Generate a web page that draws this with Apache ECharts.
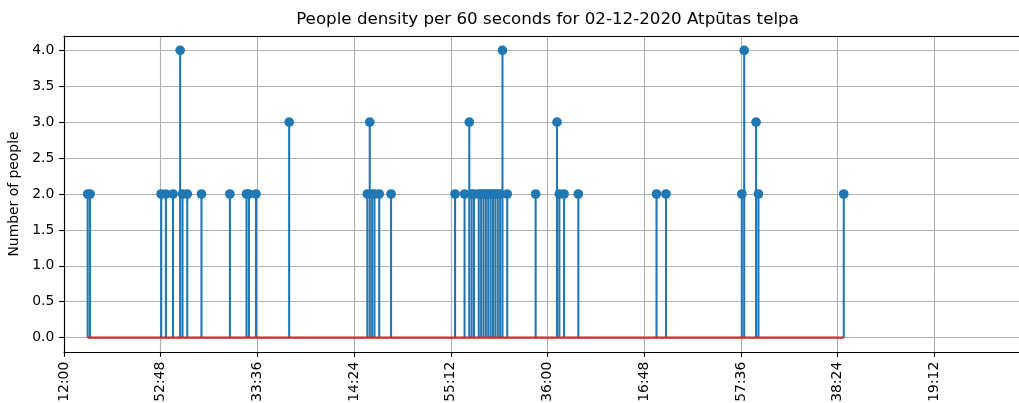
<!DOCTYPE html>
<html><head><meta charset="utf-8">
<script src="https://cdn.jsdelivr.net/npm/echarts@6/dist/echarts.min.js"></script>
<style>html,body{margin:0;padding:0;background:#fff}#c{width:1019px;height:403px}</style>
</head><body><div id="c"></div>
<script>
const titleText = 'People density per 60 seconds for 02-12-2020 Atpūtas telpa';
const yAxisName = 'Number of people';
const times = ['08:22','08:23','08:53','08:55','08:58','09:01','09:02','09:04','09:10','09:22','09:29','09:30','09:33','09:47',
  '10:20','10:21','10:22','10:23','10:25','10:30','10:57','11:01','11:03','11:04','11:05','11:07','11:08','11:09','11:10',
  '11:11','11:12','11:13','11:14','11:15','11:16','11:17','11:19','11:31','11:40','11:41','11:43','11:49','12:22','12:26',
  '12:58','12:59','13:04','13:05','13:41'];
const counts = [2,2,2,2,2,4,2,2,2,2,2,2,2,3,
  2,3,2,2,2,2,2,2,3,2,2,2,2,2,2,
  2,2,2,2,2,2,4,2,2,3,2,2,2,2,2,
  2,4,3,2,2];
const axisStart = '08:12:00';
const axisEnd = '15:00:00';
const tickStepSeconds = 2448;

function toSec(s){const p=s.split(':').map(Number);return p[0]*3600+p[1]*60+(p[2]||0);}
function fmt(sec){sec=Math.round(sec);const h=Math.floor(sec/3600),m=Math.floor(sec%3600/60),s=sec%60;
  return [h,m,s].map(v=>String(v).padStart(2,'0')).join(':');}
const t0 = toSec(axisStart), span = toSec(axisEnd) - t0;
const pts = times.map((t,i)=>[toSec(t)-t0, counts[i]]);
const xs = pts.map(p=>p[0]);
const baseline = [[Math.min(...xs),0],[Math.max(...xs),0]];

const FONT = 'DejaVu Sans';
const chart = echarts.init(document.getElementById('c'));
chart.setOption({
  animation:false,
  backgroundColor:'#fff',
  title:{text:titleText,left:547.5,top:11,textAlign:'center',padding:0,
    textStyle:{fontFamily:FONT,fontSize:16.7,fontWeight:'normal',color:'#000'}},
  grid:{left:64,top:36,right:-12,bottom:51,containLabel:false,outerBoundsMode:'none'},
  xAxis:[{type:'value',min:0,max:span,interval:tickStepSeconds,position:'bottom',
    axisLine:{show:true,onZero:false,lineStyle:{color:'#000',width:1.11}},
    axisTick:{show:true,length:4.86,lineStyle:{color:'#000',width:1.11}},
    axisLabel:{rotate:90,margin:9.7,color:'#000',fontFamily:FONT,fontSize:13.9,hideOverlap:false,formatter:v=>fmt(t0+v)},
    splitLine:{show:true,lineStyle:{color:'#b0b0b0',width:1.11}}},
   {type:'value',min:0,max:span,position:'top',
    axisLine:{show:true,onZero:false,lineStyle:{color:'#000',width:1.11}},
    axisTick:{show:false},axisLabel:{show:false},splitLine:{show:false}}],
  yAxis:{type:'value',min:-0.2,max:4.2,minInterval:0.5,maxInterval:0.5,splitNumber:9,
    axisLine:{show:true,onZero:false,lineStyle:{color:'#000',width:1.11}},
    axisTick:{show:true,length:4.86,lineStyle:{color:'#000',width:1.11}},
    axisLabel:{color:'#000',fontFamily:FONT,fontSize:13.9,margin:9.7,showMinLabel:false,showMaxLabel:false,
      formatter:v=>(v<-1e-9||v>4+1e-9)?'':v.toFixed(1)},
    splitLine:{show:true,showMinLine:false,showMaxLine:false,lineStyle:{color:'#b0b0b0',width:1.11}},
    name:yAxisName,nameLocation:'middle',nameGap:37,
    nameTextStyle:{color:'#000',fontFamily:FONT,fontSize:13.9}},
  series:[
    {type:'custom',data:pts,z:2,clip:true,
     renderItem:function(params,api){
       const p0=api.coord([api.value(0),0]);const p1=api.coord([api.value(0),api.value(1)]);
       return {type:'line',shape:{x1:p0[0],y1:p0[1],x2:p1[0],y2:p1[1]},style:{stroke:'#1f77b4',lineWidth:2.08}};
     }},
    {type:'scatter',data:pts,symbol:'circle',symbolSize:9.7,z:3,itemStyle:{color:'#1f77b4',opacity:1}},
    {type:'line',data:baseline,symbol:'none',z:4,lineStyle:{color:'#d62728',width:2.08}}
  ]
});
</script></body></html>
